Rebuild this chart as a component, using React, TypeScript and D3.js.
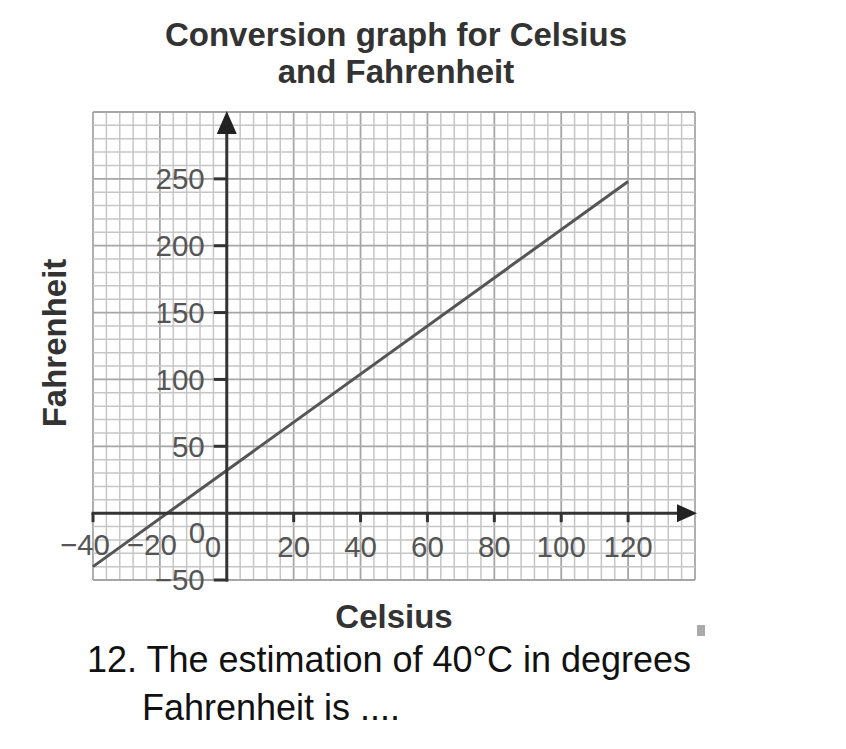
import React from "react";
import * as d3 from "d3";

const celsius = [-40, 120];
const fahrenheit = [-40, 248];
const xTicks = [20, 40, 60, 80, 100, 120];
const yTicks = [50, 100, 150, 200, 250];
const xNegTicks = [-40, -20];
const titleLines = ["Conversion graph for Celsius", "and Fahrenheit"];
const questionLines = ["12. The estimation of 40°C in degrees", "Fahrenheit is ...."];

const W = 846;
const H = 749;
const FONT = "'Liberation Sans', Arial, Helvetica, sans-serif";

export default function App() {
  const x = d3.scaleLinear().domain([-40, 140]).range([93, 695]);
  const y = d3.scaleLinear().domain([-50, 300]).range([580, 112]);

  const vLines = d3.range(-40, 141, 4);
  const hLines = d3.range(-50, 301, 10);

  const line = d3
    .line<number>()
    .x((_, i) => x(celsius[i]))
    .y((d) => y(d));

  const x0 = x(0);
  const y0 = y(0);

  return (
    <svg
      width={W}
      height={H}
      style={{ position: "absolute", left: 0, top: 0, background: "#fff" }}
      fontFamily={FONT}
    >
      <rect width={W} height={H} fill="#fff" />
      {/* grid */}
      <g>
        {vLines.map((v) => (
          <line
            key={"v" + v}
            x1={x(v)}
            x2={x(v)}
            y1={y(300)}
            y2={y(-50)}
            stroke={v % 20 === 0 ? "#a6a6a6" : "#c6c6c6"}
            strokeWidth={v % 20 === 0 ? 1.8 : 1.5}
          />
        ))}
        {hLines.map((v) => (
          <line
            key={"h" + v}
            x1={x(-40)}
            x2={x(140)}
            y1={y(v)}
            y2={y(v)}
            stroke={v % 50 === 0 ? "#a6a6a6" : "#c6c6c6"}
            strokeWidth={v % 50 === 0 ? 1.8 : 1.5}
          />
        ))}
      </g>

      {/* data line */}
      <path d={line(fahrenheit) || ""} fill="none" stroke="#555" strokeWidth={3} />

      {/* axes */}
      <g stroke="#333" strokeWidth={3} fill="none">
        <line x1={x0} x2={x0} y1={y(-50) + 1.5} y2={y(300) + 18} />
        <line x1={x0 - 13} x2={x0 + 1.5} y1={y(-50)} y2={y(-50)} />
        <line x1={x(-40) - 1.5} x2={x(140) - 14} y1={y0} y2={y0} />
        <line x1={x(-40)} x2={x(-40)} y1={y0} y2={y0 + 9} />
        {xTicks.map((t) => (
          <line key={"xt" + t} x1={x(t)} x2={x(t)} y1={y0} y2={y0 + 9} />
        ))}
        {yTicks.map((t) => (
          <line key={"yt" + t} x1={x0 - 13} x2={x0} y1={y(t)} y2={y(t)} />
        ))}
      </g>
      <path
        d={`M${x0},${y(300) - 1} L${x0 - 10},${y(300) + 22} L${x0 + 10},${y(300) + 22} Z`}
        fill="#222"
      />
      <path
        d={`M${x(140) + 2},${y0} L${x(140) - 18},${y0 - 9} L${x(140) - 18},${y0 + 9} Z`}
        fill="#222"
      />

      {/* tick labels */}
      <g fill="#555" fontSize={29.5}>
        {xTicks.map((t) => (
          <text key={"xl" + t} x={x(t)} y={y0 + 44} textAnchor="middle">
            {t}
          </text>
        ))}
        {xNegTicks.map((t) => (
          <text key={"xn" + t} x={x(t) + 17} y={y0 + 42} textAnchor="end">
            {"−" + Math.abs(t)}
          </text>
        ))}
        <text x={197} y={543} textAnchor="middle">0</text>
        <text x={213} y={557} textAnchor="middle">0</text>
        {yTicks.map((t) => (
          <text key={"yl" + t} x={x0 - 22} y={y(t)} dy="0.35em" textAnchor="end">
            {t}
          </text>
        ))}
        <text x={x0 - 22} y={y(-50)} dy="0.35em" textAnchor="end">
          {"−50"}
        </text>
      </g>

      {/* titles */}
      <g fill="#333" fontWeight="bold" fontSize={33} textAnchor="middle">
        <text x={396} y={46}>{titleLines[0]}</text>
        <text x={396} y={83}>{titleLines[1]}</text>
        <text x={394} y={628}>Celsius</text>
        <text x={0} y={0} transform={`translate(66,343) rotate(-90)`}>
          Fahrenheit
        </text>
      </g>

      <rect x={697} y={625} width={8} height={11} fill="#aaa" />

      {/* question */}
      <g fill="#111" fontSize={36}>
        <text x={87} y={672}>{questionLines[0]}</text>
        <text x={142} y={720}>{questionLines[1]}</text>
      </g>
    </svg>
  );
}
